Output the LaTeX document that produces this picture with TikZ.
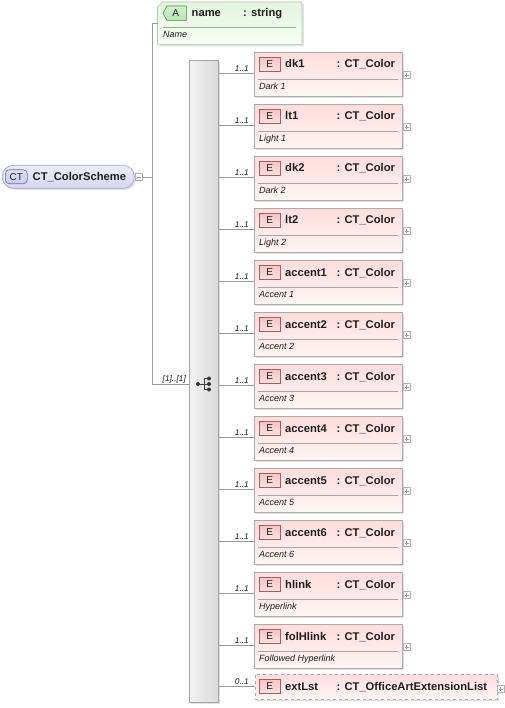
\documentclass[tikz,border=0pt]{standalone}
\usepackage{fontspec}
\setmainfont{Liberation Sans}
\usetikzlibrary{calc}
\definecolor{conn}{HTML}{9A9A9A}
\definecolor{elborder}{HTML}{AAAAAA}
\definecolor{eltop}{HTML}{FFDCDC}
\definecolor{elbot}{HTML}{FFF5F5}
\definecolor{etagfill}{HTML}{F6C4C4}
\definecolor{etagdraw}{HTML}{B05A5A}
\definecolor{attop}{HTML}{E2F5DC}
\definecolor{atbot}{HTML}{F8FDF6}
\definecolor{atborder}{HTML}{B0C4AC}
\definecolor{atagfill}{HTML}{B4E2AC}
\definecolor{atagdraw}{HTML}{4E8A46}
\definecolor{cttop}{HTML}{EDEDFB}
\definecolor{ctbot}{HTML}{D6D6F2}
\definecolor{ctborder}{HTML}{A4A4C8}
\definecolor{cttagfill}{HTML}{CACAF0}
\definecolor{cttagdraw}{HTML}{6A6AAE}
\definecolor{seqleft}{HTML}{F2F2F2}
\definecolor{seqright}{HTML}{DADADA}
\definecolor{txt}{HTML}{1E1E1E}
\tikzset{
  conline/.style={draw=conn, line width=0.6pt},
  elbox/.style={draw=elborder, line width=0.6pt, top color=eltop, bottom color=elbot, anchor=north west, minimum width=148pt, minimum height=44pt, inner sep=0pt},
  etag/.style={draw=etagdraw, line width=0.6pt, top color=etagfill, bottom color=etagfill!50, anchor=north west, minimum width=21pt, minimum height=14pt, inner sep=0pt, font=\fontsize{10}{11}\selectfont, text=txt},
  nametxt/.style={anchor=base west, inner sep=0pt, font=\fontsize{11.2}{13}\selectfont\bfseries, text=txt},
  desctxt/.style={anchor=base west, inner sep=0pt, font=\fontsize{9}{10}\selectfont\itshape, text=txt},
  cardtxt/.style={anchor=base east, inner sep=0pt, font=\fontsize{8.3}{9}\selectfont\itshape, text=txt},
  sepline/.style={draw=black!35, line width=0.5pt},
  plusbox/.style={draw=black!30, fill=white, line width=0.5pt, minimum size=7pt, inner sep=0pt,
    path picture={\draw[black!40, line width=0.5pt] ([xshift=1.5pt]path picture bounding box.west) -- ([xshift=-1.5pt]path picture bounding box.east) ([yshift=-1.5pt]path picture bounding box.north) -- ([yshift=1.5pt]path picture bounding box.south);}},
  minusbox/.style={draw=black!30, fill=white, line width=0.5pt, minimum size=7pt, inner sep=0pt,
    path picture={\draw[black!40, line width=0.5pt] ([xshift=1.5pt]path picture bounding box.west) -- ([xshift=-1.5pt]path picture bounding box.east);}},
}
\begin{document}
\begin{tikzpicture}[x=1pt,y=-1pt]
\useasboundingbox (0,0) rectangle (504,708);
\fill[white] (0,0) rectangle (504,708);

% ---------- root CT_ColorScheme ----------
\fill[black!12, rounded corners=11pt] (4,167) rectangle (136,190);
\node[draw=ctborder, line width=0.6pt, top color=cttop, bottom color=ctbot, rounded corners=11pt, anchor=north west, minimum width=132pt, minimum height=23pt, inner sep=0pt] (root) at (2,165) {};
\node[draw=cttagdraw, line width=0.6pt, top color=cttagfill!60, bottom color=cttagfill, rounded corners=4pt, anchor=north west, minimum width=22pt, minimum height=14pt, inner sep=0pt, font=\fontsize{10}{11}\selectfont, text=txt] (roottag) at (5,169.5) {CT};
\node[nametxt] (rootname) at (32.5,180.5) {CT\_ColorScheme};
\node[minusbox] (rootminus) at (138.5,177) {};
\coordinate (trunk) at (152,177);
\draw[conline] (rootminus.east) -- (trunk);

% ---------- attribute name ----------
\node[anchor=north west, minimum width=144pt, minimum height=42pt, inner sep=0pt] (attr) at (157.5,2) {};
\fill[black!12] ($(attr.north west)+(7,2)$) -- ($(attr.north east)+(2,2)$) -- ($(attr.south east)+(2,2)$) -- ($(attr.south west)+(2,2)$) -- ($(attr.north west)+(2,7)$) -- cycle;
\draw[draw=atborder, line width=0.6pt, top color=attop, bottom color=atbot] ($(attr.north west)+(5,0)$) -- (attr.north east) -- (attr.south east) -- (attr.south west) -- ($(attr.north west)+(0,5)$) -- cycle;
\node[anchor=north west, minimum width=23pt, minimum height=14pt, inner sep=0pt] (atag) at (163,6) {};
\draw[draw=atagdraw, line width=0.6pt, top color=atagfill!50, bottom color=atagfill] ($(atag.north west)+(4,0)$) -- (atag.north east) -- (atag.south east) -- ($(atag.south west)+(4,0)$) -- (atag.west) -- cycle;
\node[anchor=center, inner sep=0pt, font=\fontsize{10}{11}\selectfont, text=txt] (atagtxt) at ($(atag.center)+(1,0)$) {A};
\node[nametxt] (aname) at (191.5,17) {name};
\node[nametxt] (atype) at (243,17) {: string};
\draw[sepline] (163,27) -- (296,27);
\node[desctxt] (adesc) at (163,37.5) {Name};

% ---------- sequence ----------
\fill[black!12] (191,62) rectangle (220,704);
\node[draw=black!35, line width=0.6pt, left color=seqleft, right color=seqright, anchor=north west, minimum width=29pt, minimum height=642pt, inner sep=0pt] (seq) at (189,60) {};
\coordinate (seqin) at (189,384);
\draw[conline] (trunk |- attr.west) -- (attr.west);
\draw[conline] (trunk |- attr.west) -- (trunk |- seqin) -- (seqin);
\node[cardtxt] (seqcard) at (186,381) {[1]..[1]};
% sequence symbol
\coordinate (sq) at (204,384);
\draw[black!75, line width=0.8pt] ($(sq)+(-6,0)$) -- (sq);
\draw[black!75, line width=0.8pt] ($(sq)+(0,-5.5)$) -- ($(sq)+(0,5.5)$);
\draw[black!75, line width=0.8pt] ($(sq)+(0,-5.5)$) -- ($(sq)+(5,-5.5)$) (sq) -- ($(sq)+(5,0)$) ($(sq)+(0,5.5)$) -- ($(sq)+(5,5.5)$);
\fill[black!80] ($(sq)+(-6,0)$) circle (2pt);
\fill[black!80] ($(sq)+(5,-5.5)$) circle (2pt) ($(sq)+(5,0)$) circle (2pt) ($(sq)+(5,5.5)$) circle (2pt);

% ---------- elements ----------
\foreach \nm/\ds [count=\i from 0] in {dk1/Dark 1, lt1/Light 1, dk2/Dark 2, lt2/Light 2, accent1/Accent 1, accent2/Accent 2, accent3/Accent 3, accent4/Accent 4, accent5/Accent 5, accent6/Accent 6, hlink/Hyperlink, folHlink/Followed Hyperlink}{
  \pgfmathtruncatemacro\T{52+52*\i}
  \fill[black!12] (256,\T+2) rectangle (404,\T+46);
  \node[elbox] (e\i) at (254,\T) {};
  \node[etag] (et\i) at (259,\T+5) {E};
  \node[nametxt] (en\i) at (285,\T+16) {\nm};
  \node[nametxt] (ety\i) at (336.5,\T+16) {: CT\_Color};
  \draw[sepline] (258,\T+27) -- (398,\T+27);
  \node[desctxt] (ed\i) at (259,\T+37.5) {\ds};
  \node[plusbox] (ep\i) at (406.5,\T+23) {};
  \coordinate (ein\i) at (254,\T+21);
  \draw[conline] (seq.east |- ein\i) -- (ein\i);
  \node[cardtxt] (ec\i) at (249,\T+19.5) {1..1};
}

% ---------- extLst ----------
\fill[black!12] (256,676) rectangle (499,701);
\node[elbox, dashed, minimum width=242pt, minimum height=25pt] (ext) at (255,674) {};
\node[etag] (exttag) at (259,679) {E};
\node[nametxt] (extname) at (285,690) {extLst};
\node[nametxt] (exttype) at (336.5,690) {: CT\_OfficeArtExtensionList};
\node[plusbox] (extplus) at (500.5,689) {};
\coordinate (extin) at (255,686);
\draw[conline] (seq.east |- extin) -- (extin);
\node[cardtxt] (extcard) at (249,684.5) {0..1};
\end{tikzpicture}
\end{document}
